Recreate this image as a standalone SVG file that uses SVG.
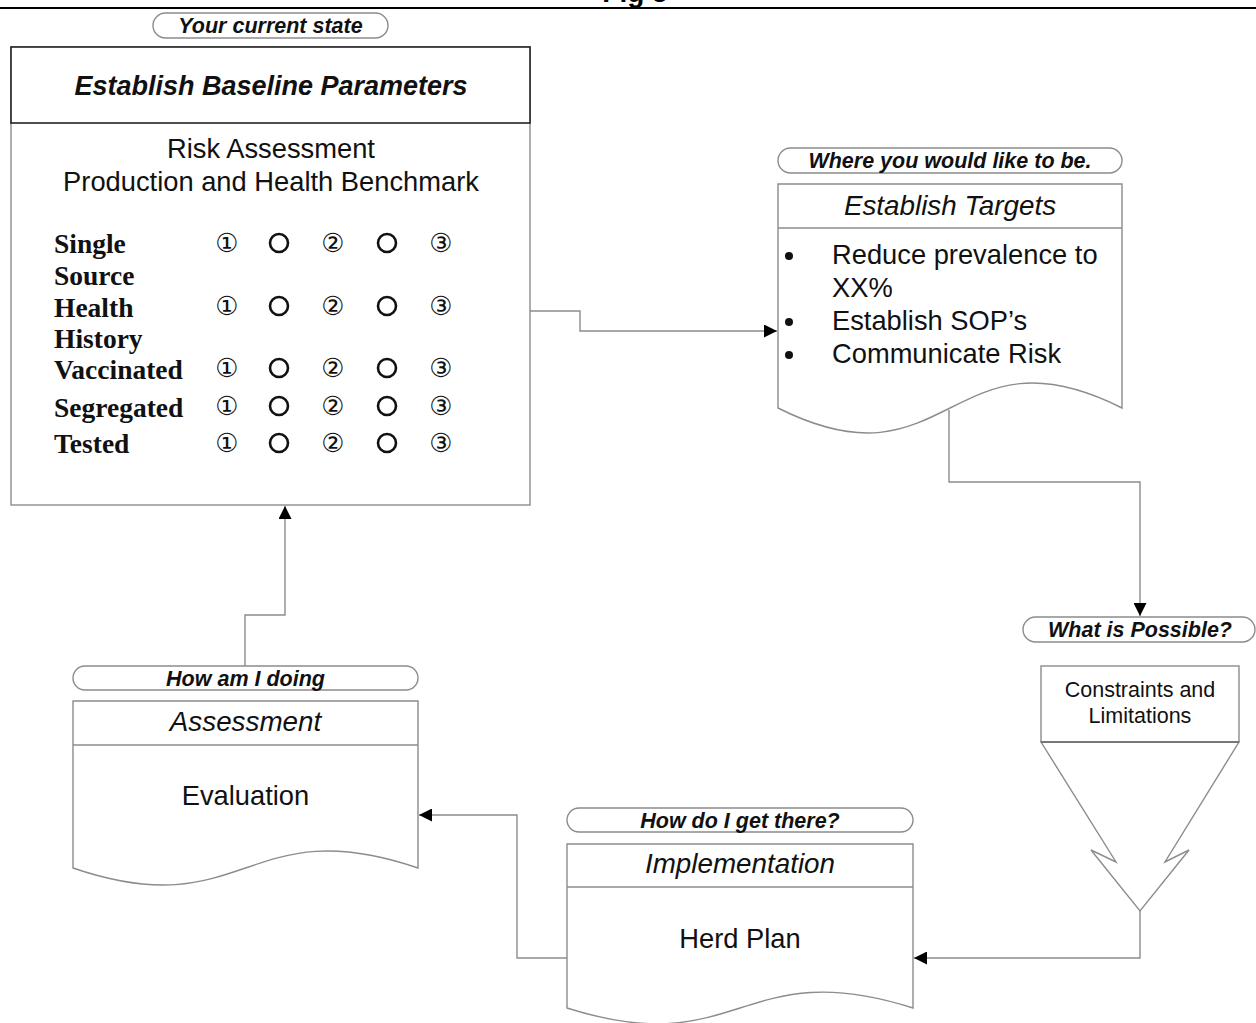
<svg xmlns="http://www.w3.org/2000/svg" width="1256" height="1023" viewBox="0 0 1256 1023">
<style>
.box{fill:#fff;stroke:#8c8c8c;stroke-width:1.4}
.hdr{fill:#fff;stroke:#222;stroke-width:1.6}
.pill{fill:#fff;stroke:#8c8c8c;stroke-width:1.4}
.con{fill:none;stroke:#8c8c8c;stroke-width:1.4}
.pt{font-family:"Liberation Sans",Arial,sans-serif;font-weight:bold;font-style:italic;font-size:21.5px;fill:#111;text-anchor:middle}
.ht{font-family:"Liberation Sans",Arial,sans-serif;font-style:italic;font-size:27.8px;fill:#111;text-anchor:middle}
.bt{font-family:"Liberation Sans",Arial,sans-serif;font-size:27.3px;fill:#111}
.rl{font-family:"Liberation Serif","Times New Roman",serif;font-weight:bold;font-size:27.5px;fill:#111}
.cd{font-family:"DejaVu Sans",sans-serif;font-size:26px;fill:#111;text-anchor:middle}
.ring{fill:none;stroke:#111;stroke-width:2.6}
</style>
<defs>
<marker id="arr" viewBox="0 0 10 10" refX="10" refY="5" markerWidth="14" markerHeight="13" markerUnits="userSpaceOnUse" orient="auto">
<path d="M0,0 L10,5 L0,10 z" fill="#000"/>
</marker>
</defs>
<rect width="1256" height="1023" fill="#fff"/>
<g id="title">
<text x="635" y="2" font-family="Liberation Sans,Arial,sans-serif" font-weight="bold" font-size="28" text-anchor="middle" fill="#000">Fig 5</text>
<line x1="0" y1="8" x2="1256" y2="8" stroke="#000" stroke-width="2"/>
</g>
<g id="connectors">
<path class="con" d="M245,666 V615 H285 V506" marker-end="url(#arr)"/>
<path class="con" d="M530,311 H580 V331 H777" marker-end="url(#arr)"/>
<path class="con" d="M949,410 V482 H1140 V616" marker-end="url(#arr)"/>
<path class="con" d="M1140,911 V958 H914" marker-end="url(#arr)"/>
<path class="con" d="M567,958 H517 V815 H419" marker-end="url(#arr)"/>
</g>
<g id="current-state">
<rect class="pill" x="153" y="13" width="235" height="25" rx="12.5"/>
<text class="pt" x="270.5" y="33">Your current state</text>
</g>
<g id="baseline">
<rect class="box" x="11" y="47" width="519" height="458"/>
<rect class="hdr" x="11" y="47" width="519" height="76"/>
<text x="271" y="95" font-family="Liberation Sans,Arial,sans-serif" font-weight="bold" font-style="italic" font-size="27" text-anchor="middle" fill="#111">Establish Baseline Parameters</text>
<text class="bt" x="271" y="158" text-anchor="middle">Risk Assessment</text>
<text class="bt" x="271" y="191" text-anchor="middle">Production and Health Benchmark</text>
<text class="rl" x="54" y="253">Single</text>
<text class="rl" x="54" y="285">Source</text>
<text class="rl" x="54" y="317">Health</text>
<text class="rl" x="54" y="348">History</text>
<text class="rl" x="54" y="379">Vaccinated</text>
<text class="rl" x="54" y="417">Segregated</text>
<text class="rl" x="54" y="453">Tested</text>
<g id="row1">
<text class="cd" x="227" y="252">①</text><circle class="ring" cx="279" cy="243" r="9"/><text class="cd" x="333" y="252">②</text><circle class="ring" cx="387" cy="243" r="9"/><text class="cd" x="441" y="252">③</text>
</g>
<g id="row2">
<text class="cd" x="227" y="315">①</text><circle class="ring" cx="279" cy="306" r="9"/><text class="cd" x="333" y="315">②</text><circle class="ring" cx="387" cy="306" r="9"/><text class="cd" x="441" y="315">③</text>
</g>
<g id="row3">
<text class="cd" x="227" y="377">①</text><circle class="ring" cx="279" cy="368" r="9"/><text class="cd" x="333" y="377">②</text><circle class="ring" cx="387" cy="368" r="9"/><text class="cd" x="441" y="377">③</text>
</g>
<g id="row4">
<text class="cd" x="227" y="415">①</text><circle class="ring" cx="279" cy="406" r="9"/><text class="cd" x="333" y="415">②</text><circle class="ring" cx="387" cy="406" r="9"/><text class="cd" x="441" y="415">③</text>
</g>
<g id="row5">
<text class="cd" x="227" y="452">①</text><circle class="ring" cx="279" cy="443" r="9"/><text class="cd" x="333" y="452">②</text><circle class="ring" cx="387" cy="443" r="9"/><text class="cd" x="441" y="452">③</text>
</g>
</g>
<g id="like-to-be">
<rect class="pill" x="778" y="148" width="344" height="25" rx="12.5"/>
<text class="pt" x="950" y="168">Where you would like to be.</text>
</g>
<g id="targets">
<path class="box" d="M778,184 H1122 V408 C950,321.5 950,494.5 778,408 Z"/>
<line class="box" x1="778" y1="228" x2="1122" y2="228"/>
<text class="ht" x="950" y="215">Establish Targets</text>
<circle cx="789" cy="256" r="4" fill="#111"/>
<circle cx="789" cy="322" r="4" fill="#111"/>
<circle cx="789" cy="355" r="4" fill="#111"/>
<text class="bt" x="832" y="264">Reduce prevalence to</text>
<text class="bt" x="832" y="297">XX%</text>
<text class="bt" x="832" y="330">Establish SOP’s</text>
<text class="bt" x="832" y="363">Communicate Risk</text>
</g>
<g id="possible">
<rect class="pill" x="1023" y="617" width="232" height="25" rx="12.5"/>
<text class="pt" x="1140" y="637">What is Possible?</text>
</g>
<g id="constraints">
<rect class="box" x="1041" y="666" width="198" height="76"/>
<polygon class="box" points="1041,742 1116,862 1091,850 1140,911 1189,850 1165,862 1239,742"/>
<line x1="1041" y1="742" x2="1239" y2="742" stroke="#777" stroke-width="2"/>
<text x="1140" y="697" font-family="Liberation Sans,Arial,sans-serif" font-size="21.5" text-anchor="middle" fill="#111">Constraints and</text>
<text x="1140" y="723" font-family="Liberation Sans,Arial,sans-serif" font-size="21.5" text-anchor="middle" fill="#111">Limitations</text>
</g>
<g id="get-there">
<rect class="pill" x="567" y="808" width="346" height="24" rx="12"/>
<text class="pt" x="740" y="827.5">How do I get there?</text>
</g>
<g id="implementation">
<path class="box" d="M567,844 H913 V1008 C740,953 740,1063 567,1008 Z"/>
<line class="box" x1="567" y1="887" x2="913" y2="887"/>
<text class="ht" x="740" y="873">Implementation</text>
<text class="bt" x="740" y="948" text-anchor="middle">Herd Plan</text>
</g>
<g id="how-doing">
<rect class="pill" x="73" y="666" width="345" height="24" rx="12"/>
<text class="pt" x="245.5" y="685.5">How am I doing</text>
</g>
<g id="assessment">
<path class="box" d="M73,701 H418 V868 C245.5,809 245.5,927 73,868 Z"/>
<line class="box" x1="73" y1="745" x2="418" y2="745"/>
<text class="ht" x="245.5" y="731">Assessment</text>
<text class="bt" x="245.5" y="805" text-anchor="middle">Evaluation</text>
</g>
</svg>
